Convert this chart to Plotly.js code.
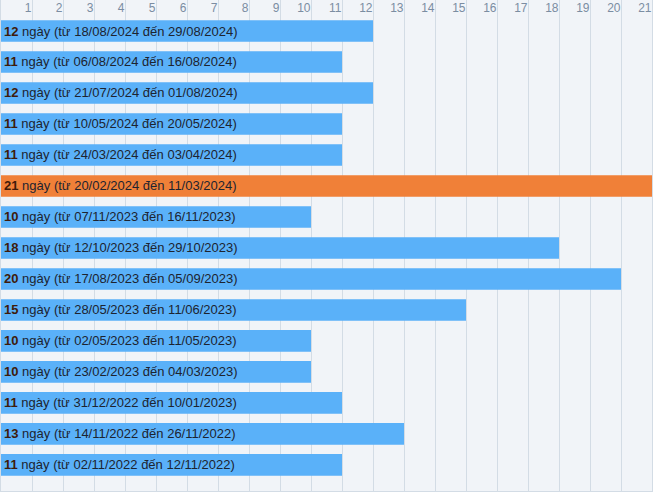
<!DOCTYPE html>
<html>
<head>
<meta charset="utf-8">
<script src="https://cdn.plot.ly/plotly-3.0.1.min.js"></script>
<style>
  html, body { margin: 0; padding: 0; background: #fff; }
  #chart { width: 654px; height: 494px; }
</style>
</head>
<body>
<div id="chart"></div>
<script>
// Chuỗi ngày liên tiếp, từ mới nhất đến cũ nhất
const days = [12, 11, 12, 11, 11, 21, 10, 18, 20, 15, 10, 10, 11, 13, 11];
const startDates = ['18/08/2024', '06/08/2024', '21/07/2024', '10/05/2024', '24/03/2024',
    '20/02/2024', '07/11/2023', '12/10/2023', '17/08/2023', '28/05/2023',
    '02/05/2023', '23/02/2023', '31/12/2022', '14/11/2022', '02/11/2022'];
const endDates = ['29/08/2024', '16/08/2024', '01/08/2024', '20/05/2024', '03/04/2024',
    '11/03/2024', '16/11/2023', '29/10/2023', '05/09/2023', '11/06/2023',
    '11/05/2023', '04/03/2023', '10/01/2023', '26/11/2022', '12/11/2022'];
const xTicks = [1, 2, 3, 4, 5, 6, 7, 8, 9, 10, 11, 12, 13, 14, 15, 16, 17, 18, 19, 20, 21];

const maxDays = Math.max(...days);
const barColors = days.map(d => d === maxDays ? '#f08038' : '#5ab1f9');
const labels = days.map((d, i) =>
    '<span style="color:#3e1b0b"><b>' + d + '</b></span> ngày (từ ' +
    startDates[i] + ' đến ' + endDates[i] + ')');

const trace = {
    type: 'bar',
    orientation: 'h',
    x: days,
    y: startDates,
    width: 0.7,
    marker: { color: barColors, line: { width: 0 } },
    text: labels,
    textposition: 'inside',
    insidetextanchor: 'start',
    textangle: 0,
    constraintext: 'none',
    insidetextfont: { family: 'Liberation Sans, Arial, sans-serif', size: 13, color: '#1d2430' },
    hoverinfo: 'none'
};

const layout = {
    width: 654,
    height: 494,
    margin: { l: 1, r: 2, t: 0, b: 3 },
    paper_bgcolor: '#ffffff',
    plot_bgcolor: '#f1f4f8',
    showlegend: false,
    font: { family: 'Liberation Sans, Arial, sans-serif' },
    xaxis: {
        side: 'top',
        range: [0, 21],
        tickvals: xTicks,
        ticktext: xTicks.map(String),
        ticklabelposition: 'inside left',
        ticks: '',
        tickfont: { size: 12, color: '#7b8da2' },
        showgrid: true,
        gridcolor: '#d3dce5',
        gridwidth: 1,
        zeroline: false,
        showline: true,
        mirror: true,
        linecolor: '#d3dce5',
        linewidth: 1,
        fixedrange: true
    },
    yaxis: {
        type: 'category',
        categoryorder: 'array',
        categoryarray: startDates,
        range: [14.84, -1],
        showticklabels: false,
        showgrid: false,
        zeroline: false,
        showline: true,
        mirror: true,
        linecolor: '#d3dce5',
        linewidth: 1,
        fixedrange: true
    }
};

Plotly.newPlot('chart', [trace], layout, { displayModeBar: false, staticPlot: true });
</script>
</body>
</html>
